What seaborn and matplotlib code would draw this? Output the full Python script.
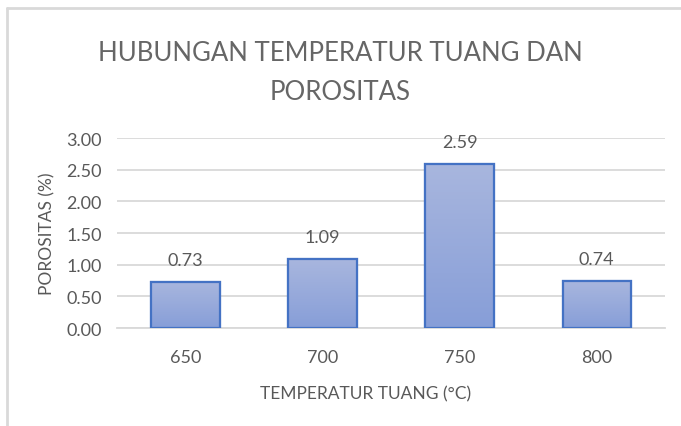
import numpy as np
import pandas as pd
import matplotlib
matplotlib.use("Agg")
import matplotlib.pyplot as plt
from matplotlib.lines import Line2D
import seaborn as sns

temperatur = ["650", "700", "750", "800"]
porositas = [0.73, 1.09, 2.59, 0.74]
y_ticks = [0.0, 0.5, 1.0, 1.5, 2.0, 2.5, 3.0]

df = pd.DataFrame({"temperatur": temperatur, "porositas": porositas})

sns.set_theme(style="white")
plt.rcParams["font.family"] = ["Lato", "DejaVu Sans"]
text_col = "#595959"

fig = plt.figure(figsize=(6.81, 4.27), dpi=100)
ax = fig.add_axes([0.172, 0.2295, 0.805, 0.4445])

sns.barplot(data=df, x="temperatur", y="porositas", ax=ax, width=0.5,
            color="#95a8d9", edgecolor="#4472c4", linewidth=1.5, zorder=3)

# gradient fill inside bars (lighter on top)
grad = np.linspace(0, 1, 100).reshape(-1, 1)
cmap = matplotlib.colors.LinearSegmentedColormap.from_list("g", ["#a8b6de", "#879ed8"])
for p in ax.patches:
    x0, y0 = p.get_x(), p.get_y()
    w, h = p.get_width(), p.get_height()
    im = ax.imshow(grad, cmap=cmap, aspect="auto", extent=(x0, x0 + w, y0, y0 + h),
                   zorder=3.5, origin="upper")
    im.set_clip_path(p)
    edge = plt.Rectangle((x0, y0), w, h, fill=False, edgecolor="#4472c4",
                         linewidth=1.6, zorder=4)
    ax.add_patch(edge)

for i, v in enumerate(porositas):
    ax.annotate(f"{v:.2f}", (i, v), xytext=(0, 10), textcoords="offset points",
                ha="center", va="bottom", fontsize=13, color=text_col)

ax.set_xlim(-0.5, 3.5)
ax.set_ylim(0, 3)
ax.set_yticks(y_ticks)
ax.set_yticklabels([f"{t:.2f}" for t in y_ticks])
ax.yaxis.grid(True, color="#d9d9d9", linewidth=1.3, zorder=0)
ax.set_axisbelow(True)
for s in ["top", "right", "left"]:
    ax.spines[s].set_visible(False)
ax.spines["bottom"].set_color("#d9d9d9")
ax.spines["bottom"].set_linewidth(1.3)
ax.tick_params(axis="both", length=0, labelsize=13, labelcolor=text_col)
ax.tick_params(axis="x", pad=15)
ax.tick_params(axis="y", pad=11)

ax.set_xlabel("TEMPERATUR TUANG (°C)", fontsize=12.5, color=text_col)
ax.xaxis.set_label_coords(0.454, -0.30)
ax.set_ylabel("POROSITAS (%)", fontsize=12.5, color=text_col, labelpad=8)

fig.text(0.5, 0.905, "HUBUNGAN TEMPERATUR TUANG DAN\nPOROSITAS", ha="center", va="top",
         fontsize=18.5, color="#666666", linespacing=1.7)

# chart frame edges
fig.add_artist(Line2D([0.0105, 0.0105], [0, 0.979], color="#d9d9d9", linewidth=2))
fig.add_artist(Line2D([0.0105, 1], [0.979, 0.979], color="#d9d9d9", linewidth=2))

fig.savefig("out.png", dpi=100)
